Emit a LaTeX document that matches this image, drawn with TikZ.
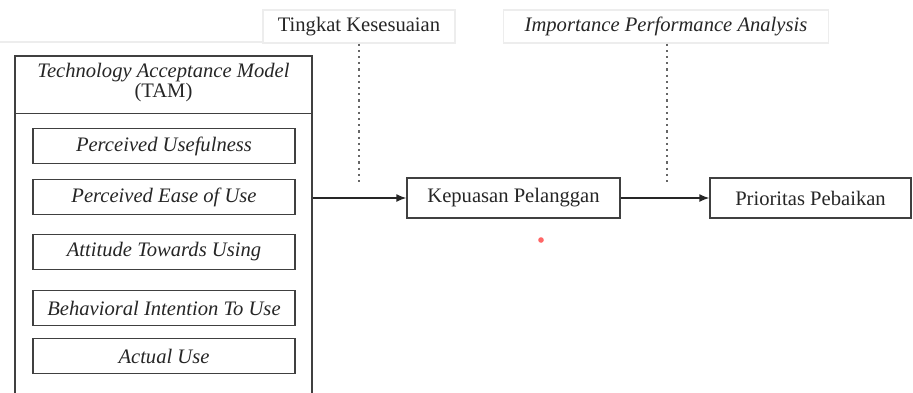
\documentclass[tikz,border=0pt]{standalone}
\usepackage{fontspec}
\setmainfont{Liberation Serif}
\usetikzlibrary{arrows.meta,calc}
\begin{document}
\begin{tikzpicture}[x=0.5pt,y=-0.5pt,
  every node/.style={font=\fontsize{10.3}{10.5}\selectfont, text=black!85},
  frame/.style={draw=black!75, line width=0.7pt, fill=white},
  itembox/.style={frame, minimum width=131pt, minimum height=17.5pt, inner sep=0pt, font=\fontsize{10.3}{10.5}\selectfont\itshape},
  flowbox/.style={frame, minimum height=20pt, inner sep=0pt},
  faintbox/.style={draw=black!7, line width=0.6pt, fill=white, minimum height=16.5pt, inner sep=0pt},
  dotline/.style={draw=black!60, line width=1.1pt, dash pattern=on 1.1pt off 2pt},
  flow/.style={draw=black!85, line width=0.7pt, -{Latex[length=5pt,width=4pt]}}]
\useasboundingbox (0,0) rectangle (913,392);
% faint background band
\draw[black!7, line width=0.6pt] (0,42) -- (263,42);
% top labels
\node[faintbox, minimum width=96pt] (tingkat) at (359,26.5) {Tingkat Kesesuaian};
\node[faintbox, minimum width=162.5pt] (ipa) at (666,26.5) {\itshape Importance Performance Analysis};
% TAM container
\node[frame, minimum width=148.5pt, minimum height=172pt, inner sep=0pt] (tam) at (163.5,228) {};
\path (tam.north west) ++(0,58) coordinate (hl);
\draw[black!75, line width=0.7pt] (hl) -- (hl -| tam.east);
\node[align=center, font=\fontsize{10.3}{10}\selectfont] (title) at (163.5,83) {\textit{Technology Acceptance Model}\\(TAM)};
% items
\node[itembox] (pu) at (164,146) {Perceived Usefulness};
\node[itembox] (peou) at (164,197) {Perceived Ease of Use};
\node[itembox] (atu) at (164,252) {Attitude Towards Using};
\node[itembox] (bitu) at (164,308) {Behavioral Intention To Use};
\node[itembox] (au) at (164,356) {Actual Use};
% flow boxes
\node[flowbox, minimum width=106.5pt] (kp) at (513.5,198) {Kepuasan Pelanggan};
\node[flowbox, minimum width=100.5pt] (pp) at (810.5,198) {Prioritas Pebaikan};
% connectors
\draw[flow] (kp.west -| tam.east) -- (kp.west);
\draw[flow] (kp.east) -- (pp.west);
% dotted lines
\coordinate (t1end) at (359,185);
\coordinate (t2end) at (667,183);
\draw[dotline] (tingkat.south) -- (t1end);
\draw[dotline] (ipa.south -| t2end) -- (t2end);
% red dot
\fill[red!60!white] (541,240) circle (1.4pt);
\end{tikzpicture}
\end{document}
